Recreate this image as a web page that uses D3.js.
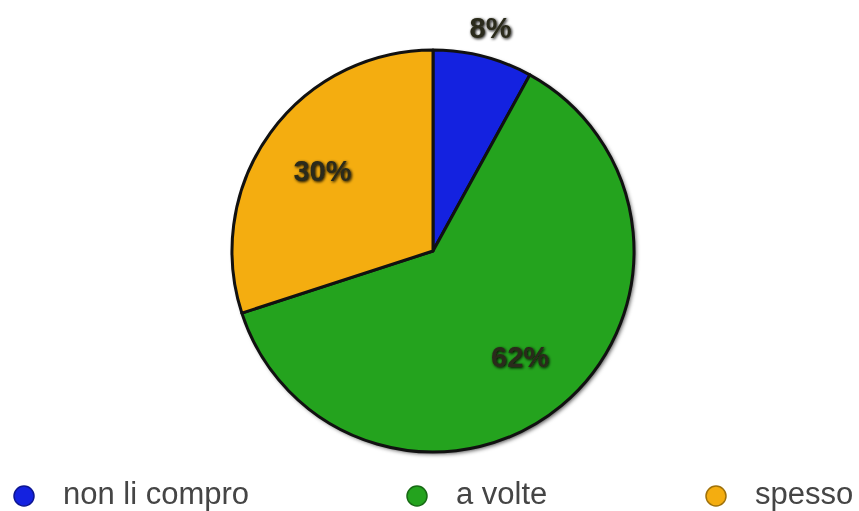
<!DOCTYPE html>
<html>
<head>
<meta charset="utf-8">
<script src="https://cdn.jsdelivr.net/npm/d3@7"></script>
<style>
  body { margin: 0; background: #fff; }
</style>
</head>
<body>
<div id="container"></div>
<script>
const categories = ['non li compro', 'a volte', 'spesso'];
const values = [8, 62, 30];
const colors = ['#1422e0', '#24a31e', '#f4ad10'];

const svgWidth = 859,
  svgHeight = 511,
  cx = 433,
  cy = 251,
  radius = 201;

const svg = d3
  .select('#container')
  .append('svg')
  .attr('width', svgWidth)
  .attr('height', svgHeight);

const defs = svg.append('defs');
const shadow = defs.append('filter').attr('id', 'shadow')
  .attr('x', '-10%').attr('y', '-10%').attr('width', '130%').attr('height', '130%');
shadow.append('feDropShadow')
  .attr('dx', 2).attr('dy', 2).attr('stdDeviation', 2)
  .attr('flood-color', '#000').attr('flood-opacity', 0.7);

const glow = defs.append('filter').attr('id', 'glow')
  .attr('x', '-30%').attr('y', '-30%').attr('width', '160%').attr('height', '160%');
glow.append('feGaussianBlur').attr('in', 'SourceAlpha').attr('stdDeviation', 1.8).attr('result', 'b');
glow.append('feOffset').attr('in', 'b').attr('dx', 1).attr('dy', 1).attr('result', 'o');
const merge = glow.append('feMerge');
merge.append('feMergeNode').attr('in', 'o');
merge.append('feMergeNode').attr('in', 'SourceGraphic');

const soft = defs.append('filter').attr('id', 'soft');
soft.append('feGaussianBlur').attr('stdDeviation', 0.6);

const pie = d3.pie().sort(null).value((d) => d);
const arcs = pie(values);
const arc = d3.arc().innerRadius(0).outerRadius(radius);
const labelArc = d3.arc().innerRadius(radius * 0.68).outerRadius(radius * 0.68);
const outerLabelArc = d3.arc().innerRadius(radius * 1.15).outerRadius(radius * 1.15);

const g = svg.append('g').attr('transform', `translate(${cx},${cy})`);

g.append('circle')
  .attr('r', radius)
  .attr('fill', '#000')
  .attr('filter', 'url(#shadow)');

g.selectAll('path')
  .data(arcs)
  .enter()
  .append('path')
  .attr('d', arc)
  .attr('fill', (d, i) => colors[i])
  .attr('stroke', '#111')
  .attr('stroke-width', 3)
  .attr('stroke-linejoin', 'round');

g.selectAll('.label')
  .data(arcs)
  .enter()
  .append('text')
  .attr('class', 'label')
  .attr('transform', (d) => {
    const c = d.data < 10 ? outerLabelArc.centroid(d) : labelArc.centroid(d);
    return `translate(${c[0]},${c[1]})`;
  })
  .attr('text-anchor', 'middle')
  .attr('dy', '0.36em')
  .attr('font-family', 'Liberation Sans, Arial, sans-serif')
  .attr('font-weight', 'bold')
  .attr('font-size', 29)
  .attr('fill', '#2a2a1a')
  .attr('filter', 'url(#glow)')
  .text((d) => `${d.data}%`);

// legend
const legendX = [24, 417, 716];
const legend = svg.selectAll('.legend')
  .data(categories)
  .enter()
  .append('g')
  .attr('class', 'legend')
  .attr('transform', (d, i) => `translate(${legendX[i]},496)`);

legend.append('circle')
  .attr('r', 10)
  .attr('fill', (d, i) => colors[i])
  .attr('stroke', (d, i) => d3.color(colors[i]).darker(1.2))
  .attr('stroke-width', 1.5);

legend.append('text')
  .attr('x', 39)
  .attr('y', 8)
  .attr('font-family', 'Liberation Sans, Arial, sans-serif')
  .attr('font-size', 31)
  .attr('fill', '#444')
  .attr('filter', 'url(#soft)')
  .text((d) => d);
</script>
</body>
</html>
